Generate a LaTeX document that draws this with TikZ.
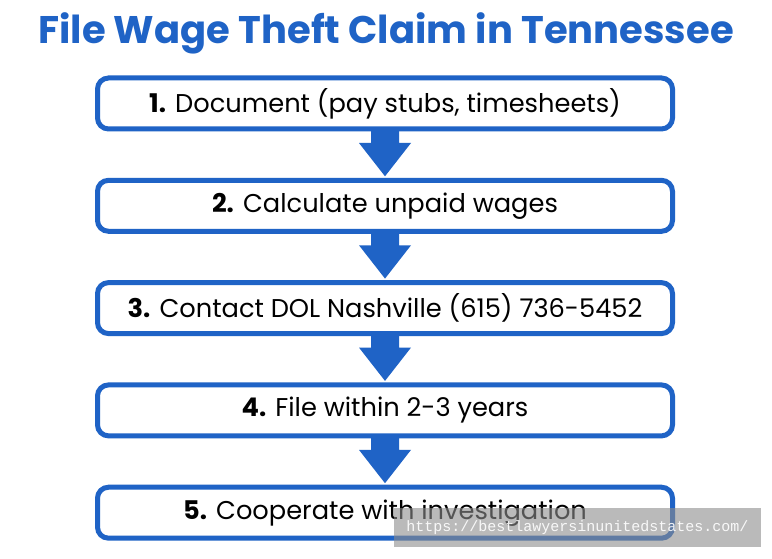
\documentclass[tikz,border=0pt]{standalone}
\usepackage{fontspec}
\setmainfont{Poppins}
\newfontfamily\wmfont{Liberation Mono}
\usetikzlibrary{positioning}
\definecolor{stepblue}{HTML}{1F63C6}
\tikzset{
    stepbox/.style={draw=stepblue, line width=5pt, rounded corners=11pt, outer sep=0pt,
        minimum width=575pt, minimum height=51pt, fill=white, text=black,
        font=\fontsize{25.7}{30}\selectfont},
}
\newcommand{\flowarrow}[2]{%
    \fill[stepblue] ([xshift=-14pt]#1.south) -- ([xshift=-14pt,yshift=-14pt]#1.south)
        -- ([xshift=-26pt,yshift=-14pt]#1.south) -- ([yshift=4pt]#2.north)
        -- ([xshift=26pt,yshift=-14pt]#1.south) -- ([xshift=14pt,yshift=-14pt]#1.south)
        -- ([xshift=14pt]#1.south) -- cycle;%
}

\begin{document}
\begin{tikzpicture}[x=1pt, y=-1pt]
    \useasboundingbox[fill=white] (0,0) rectangle (772,559);
    \node[text=stepblue, font=\fontsize{38.5}{44}\selectfont\bfseries] (title) at (386,33)
        {File Wage Theft Claim in Tennessee};
    \node[stepbox] (doc) at (385,103.5) {\textbf{1.} Document (pay stubs, timesheets)};
    \node[stepbox, below=51.3pt of doc] (calc) {\textbf{2.} Calculate unpaid wages};
    \node[stepbox, below=51.3pt of calc] (contact) {\textbf{3.} Contact DOL Nashville (615) 736-5452};
    \node[stepbox, below=51.3pt of contact] (file) {\textbf{4.} File within 2-3 years};
    \node[stepbox, below=51.3pt of file] (coop) {\textbf{5.} Cooperate with investigation};
    % arrows between the steps
    \flowarrow{doc}{calc}
    \flowarrow{calc}{contact}
    \flowarrow{contact}{file}
    \flowarrow{file}{coop}
    % watermark
    \node[fill=black!45, fill opacity=0.6, text=white, text opacity=0.9, minimum width=367pt,
        minimum height=39pt, inner sep=0pt, font=\wmfont\fontsize{15}{18}\selectfont] (wm)
        at (577.5,527.5) {https://bestlawyersinunitedstates.com/};
\end{tikzpicture}
\end{document}
